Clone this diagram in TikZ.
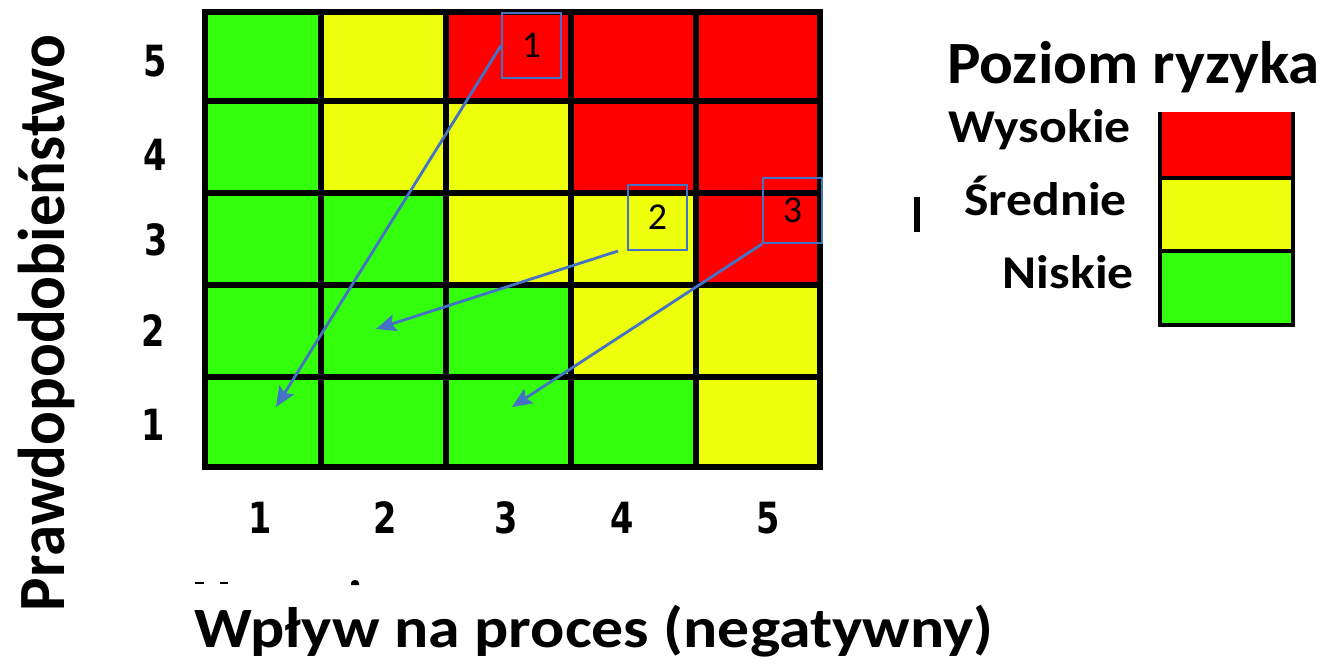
\documentclass[tikz,border=0pt]{standalone}
\usepackage{fontspec}
\setmainfont{Carlito}
\newfontfamily\digitfont{DejaVu Sans}[FakeStretch=0.78]
\usetikzlibrary{arrows.meta}

\definecolor{riskG}{RGB}{51,255,12}
\definecolor{riskY}{RGB}{238,255,12}
\definecolor{riskR}{RGB}{255,0,0}
\definecolor{markblue}{RGB}{68,114,196}

\tikzset{
  gridline/.style={line width=5.5pt, black, line cap=rect},
  axisdigit/.style={font=\digitfont\bfseries\fontsize{43}{46}\selectfont, inner sep=0pt},
  markbox/.style={draw=markblue, line width=2pt, minimum width=59pt, minimum height=65pt,
                  inner sep=0pt, font=\fontsize{38}{42}\selectfont},
  markarrow/.style={draw=markblue, line width=2.8pt, -{Stealth[length=20pt, width=17pt, inset=3.5pt]}},
  bigtitle/.style={font=\bfseries\fontsize{60}{66}\selectfont, inner sep=0pt},
  legendlabel/.style={font=\bfseries\fontsize{47}{52}\selectfont, xscale=1.1, inner sep=0pt, anchor=base east},
  legendline/.style={line width=3.5pt, black},
}

\begin{document}
\begin{tikzpicture}[x=1pt, y=-1pt]
\useasboundingbox (0,0) rectangle (1330,664);

% risk matrix cells: rows from likelihood 5 (top) down to 1
\def\colx{{205,321,446,571,696,820}}
\def\rowy{{12,101,193,285,377,467}}
\foreach \r/\row in {0/{G,Y,R,R,R}, 1/{G,Y,Y,R,R}, 2/{G,G,Y,Y,R}, 3/{G,G,G,Y,Y}, 4/{G,G,G,G,Y}} {
  \foreach \c [count=\i from 0] in \row {
    \pgfmathsetmacro\xa{\colx[\i]}
    \pgfmathsetmacro\xb{\colx[\i+1]}
    \pgfmathsetmacro\ya{\rowy[\r]}
    \pgfmathsetmacro\yb{\rowy[\r+1]}
    \fill[risk\c] (\xa,\ya) rectangle (\xb,\yb);
  }
}
\foreach \x in {205,321,446,571,696,820} \draw[gridline] (\x,12) -- (\x,467);
\foreach \y in {12,101,193,285,377,467} \draw[gridline] (205,\y) -- (820,\y);

% likelihood scale
\node[axisdigit] (l5) at (155,61) {5};
\node[axisdigit] (l4) at (155,155) {4};
\node[axisdigit] (l3) at (156,240) {3};
\node[axisdigit] (l2) at (153,331) {2};
\node[axisdigit] (l1) at (153,425) {1};

% impact scale
\node[axisdigit] (i1) at (260,518) {1};
\node[axisdigit] (i2) at (385,518) {2};
\node[axisdigit] (i3) at (506,518) {3};
\node[axisdigit] (i4) at (622,518) {4};
\node[axisdigit] (i5) at (768,518) {5};

% axis titles
\node[bigtitle, xscale=1.05, rotate=90, font=\bfseries\fontsize{63}{66}\selectfont] (ylab) at (46,323) {Prawdopodobieństwo};
\node[bigtitle, xscale=1.12, font=\bfseries\fontsize{57}{62}\selectfont] (xlab) at (594,631) {Wpływ na proces (negatywny)};

% remnants of a clipped line of text
\fill[black] (195,582) rectangle (204,584);
\fill[black] (220,582) rectangle (228,584);
\fill[black] (351,585) rectangle (359,583) arc[start angle=0, end angle=180, x radius=4, y radius=-3] -- cycle;
\fill[black] (914,197) rectangle (920,232);

% risk markers and their moves
\node[markbox] (b1) at (531.5,45.5) {1};
\node[markbox] (b2) at (657.5,217.5) {2};
\node[markbox] (b3) at (792.5,210.5) {3};
\coordinate (t1) at (276,407);
\coordinate (t2) at (376,329);
\coordinate (t3) at (512,407);
\draw[markarrow] (b1.west) -- (t1);
\draw[markarrow] ([xshift=-9pt]b2.south west) -- (t2);
\draw[markarrow] (b3.south west) -- (t3);

% legend
\node[bigtitle, xscale=1.05, anchor=base west] (ltitle) at (947,83) {Poziom ryzyka};
\fill[riskR] (1160,112) rectangle (1293,178);
\fill[riskY] (1160,178) rectangle (1293,251);
\fill[riskG] (1160,251) rectangle (1293,324);
\draw[legendline] (1160,112) -- (1160,325) -- (1293,325) -- (1293,112);
\draw[legendline] (1160,178) -- (1293,178);
\draw[legendline] (1160,251) -- (1293,251);
\node[legendlabel] (lhigh) at (1131,142) {Wysokie};
\node[legendlabel] (lmid) at (1127,215) {Średnie};
\node[legendlabel] (llow) at (1134,288) {Niskie};
\end{tikzpicture}
\end{document}
